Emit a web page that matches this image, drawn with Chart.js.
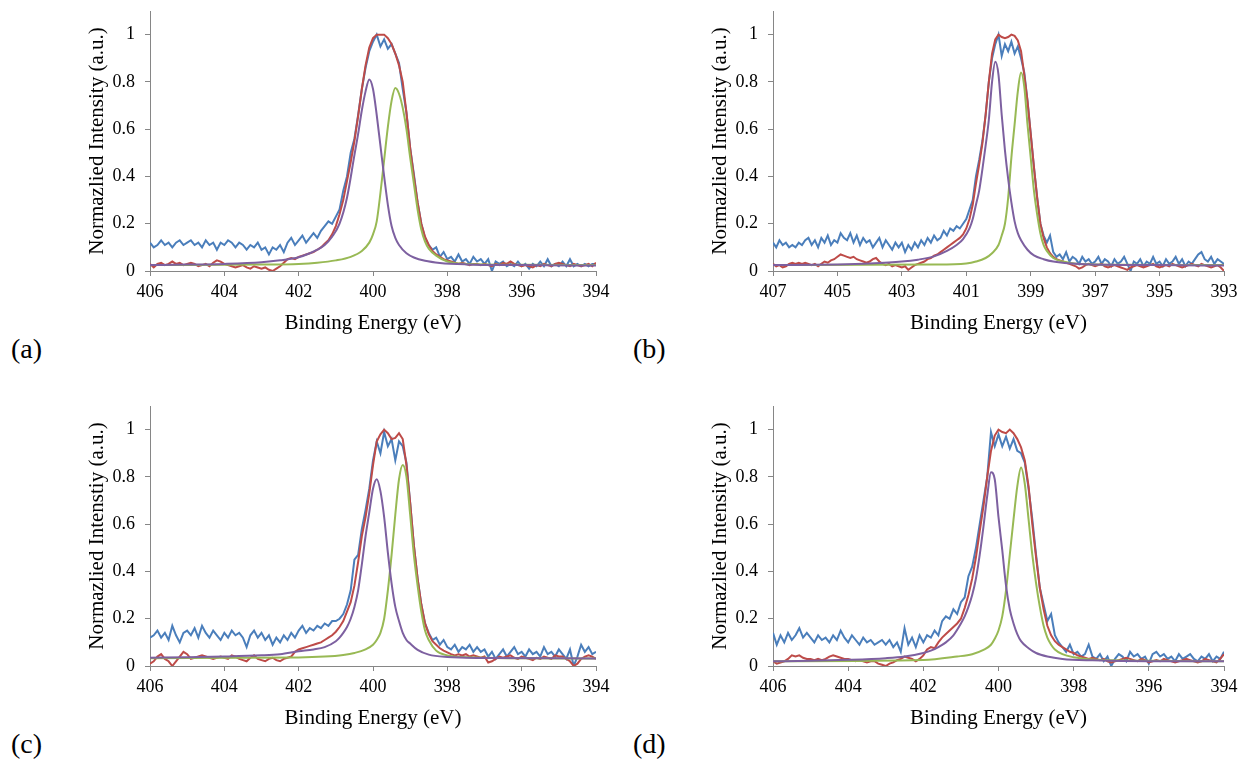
<!DOCTYPE html>
<html>
<head>
<meta charset="utf-8">
<script src="https://cdn.jsdelivr.net/npm/chart.js@4.4.1/dist/chart.umd.min.js"></script>
<style>
html,body{margin:0;padding:0;background:#fff;overflow:hidden;width:1238px;height:761px;}
canvas{position:absolute;}
.lbl{position:absolute;font-family:"Liberation Serif","Times New Roman",serif;font-size:28px;color:#000;line-height:1;}
</style>
</head>
<body>
<canvas id="ca"></canvas>
<canvas id="cb"></canvas>
<canvas id="cc"></canvas>
<canvas id="cd"></canvas>
<div class="lbl" style="left:11px;top:335px">(a)</div>
<div class="lbl" style="left:633px;top:335px">(b)</div>
<div class="lbl" style="left:11px;top:730px">(c)</div>
<div class="lbl" style="left:633px;top:730px">(d)</div>
<script>
// ---------- tick labels ----------
const Y_TICKS = [0, 0.2, 0.4, 0.6, 0.8, 1];
const X_TICKS_406 = [406, 404, 402, 400, 398, 396, 394];
const X_TICKS_407 = [407, 405, 403, 401, 399, 397, 395, 393];
const X_TITLE = 'Binding Energy (eV)';
const Y_TITLE = 'Normazlied Intensity (a.u.)';
const Y_TITLE_C = 'Normazlied Intenstiy (a.u.)';

// ---------- (a) : measured data on 0.1 eV grid from 406 eV ----------
const GRID_START_A = 406;
const BLUE_A = [0.12,0.10,0.11,0.13,0.11,0.12,0.10,0.12,0.13,0.11,0.12,
 0.13,0.11,0.12,0.10,0.13,0.11,0.12,0.09,0.12,0.11,
 0.13,0.12,0.10,0.12,0.11,0.09,0.11,0.10,0.12,0.09,
 0.10,0.07,0.10,0.09,0.11,0.08,0.12,0.14,0.11,0.13,
 0.15,0.12,0.14,0.16,0.14,0.17,0.19,0.21,0.20,0.23,
 0.26,0.34,0.40,0.50,0.56,0.66,0.77,0.86,0.93,0.97,
 1.00,0.95,0.98,0.94,0.96,0.92,0.88,0.77,0.67,0.52,
 0.41,0.29,0.20,0.14,0.11,0.09,0.10,0.06,0.08,0.05,
 0.06,0.04,0.07,0.04,0.05,0.03,0.06,0.04,0.05,0.03,
 0.05,0.00,0.04,0.03,0.04,0.02,0.03,0.02,0.04,0.02,
 0.03,0.01,0.03,0.02,0.04,0.02,0.05,0.02,0.03,0.02,
 0.04,0.02,0.05,0.02,0.03,0.02,0.03,0.02,0.03,0.03];
const RED_A = [0.03,0.015,0.03,0.035,0.025,0.03,0.04,0.03,0.035,0.025,0.03,
 0.035,0.03,0.02,0.025,0.03,0.02,0.035,0.045,0.04,0.03,
 0.025,0.02,0.015,0.02,0.025,0.015,0.01,0.02,0.015,0.01,
 0.015,0.005,0.0,0.01,0.02,0.035,0.05,0.055,0.05,0.06,
 0.065,0.07,0.075,0.08,0.09,0.10,0.115,0.13,0.155,0.19,
 0.24,0.30,0.38,0.46,0.55,0.655,0.77,0.87,0.945,0.985,
 1.0,1.0,1.0,0.985,0.96,0.92,0.87,0.80,0.67,0.52,
 0.40,0.29,0.20,0.145,0.11,0.085,0.07,0.06,0.05,0.045,
 0.04,0.035,0.03,0.035,0.03,0.025,0.03,0.03,0.025,0.03,
 0.025,0.02,0.03,0.025,0.035,0.03,0.04,0.03,0.025,0.02,
 0.025,0.02,0.015,0.025,0.02,0.03,0.025,0.02,0.03,0.035,
 0.03,0.025,0.02,0.03,0.025,0.02,0.025,0.03,0.02,0.035];
const PURPLE_A_X = [406,405,404,403,402.5,402,401.7,401.5,401.3,401.1,400.9,400.7,400.5,400.4,400.3,400.2,400.1,400.0,399.9,399.8,399.7,399.6,399.5,399.4,399.3,399.1,398.9,398.6,398.2,397.5,396,394];
const PURPLE_A_Y = [0.025,0.027,0.03,0.037,0.045,0.058,0.075,0.09,0.11,0.145,0.2,0.31,0.49,0.58,0.68,0.76,0.81,0.77,0.66,0.53,0.40,0.28,0.19,0.14,0.11,0.075,0.057,0.043,0.034,0.028,0.025,0.023];
const GREEN_A_X = [406,403,402,401.5,401,400.6,400.3,400.1,400.0,399.9,399.8,399.7,399.6,399.5,399.4,399.3,399.2,399.1,399.0,398.9,398.8,398.7,398.6,398.5,398.3,398.0,397.5,396,394];
const GREEN_A_Y = [0.025,0.027,0.03,0.035,0.045,0.06,0.085,0.12,0.155,0.21,0.33,0.47,0.61,0.72,0.774,0.75,0.69,0.6,0.48,0.37,0.26,0.175,0.124,0.095,0.065,0.04,0.03,0.026,0.025];

// ---------- (b) : 0.1 eV grid from 407 eV ----------
const GRID_START_B = 407;
const BLUE_B = [0.12,0.10,0.13,0.11,0.12,0.10,0.11,0.10,0.12,0.11,
 0.13,0.14,0.11,0.13,0.10,0.14,0.12,0.15,0.11,0.13,
 0.12,0.16,0.14,0.13,0.16,0.12,0.15,0.11,0.14,0.12,
 0.13,0.10,0.12,0.14,0.10,0.13,0.11,0.09,0.12,0.10,
 0.12,0.08,0.11,0.09,0.12,0.10,0.13,0.11,0.14,0.12,
 0.15,0.13,0.14,0.17,0.15,0.18,0.17,0.19,0.18,0.20,
 0.22,0.26,0.30,0.40,0.47,0.55,0.66,0.80,0.90,0.96,
 1.00,0.91,0.96,0.93,0.97,0.92,0.95,0.90,0.84,0.72,
 0.58,0.44,0.31,0.20,0.15,0.12,0.15,0.08,0.06,0.07,
 0.05,0.08,0.04,0.06,0.05,0.03,0.06,0.04,0.05,0.03,
 0.04,0.06,0.03,0.05,0.04,0.02,0.05,0.03,0.04,0.06,
 0.03,0.00,0.04,0.03,0.05,0.02,0.04,0.03,0.06,0.03,
 0.04,0.02,0.05,0.03,0.04,0.06,0.03,0.05,0.02,0.04,
 0.03,0.05,0.07,0.08,0.05,0.04,0.06,0.03,0.05,0.04,0.03];
const RED_B = [0.03,0.02,0.025,0.015,0.02,0.03,0.035,0.03,0.035,0.03,
 0.035,0.03,0.025,0.03,0.02,0.03,0.04,0.035,0.045,0.05,
 0.06,0.07,0.065,0.06,0.055,0.06,0.05,0.045,0.04,0.035,
 0.04,0.05,0.055,0.04,0.03,0.025,0.03,0.02,0.025,0.02,
 0.015,0.02,0.005,0.015,0.025,0.03,0.035,0.04,0.05,0.055,
 0.065,0.07,0.08,0.09,0.10,0.11,0.12,0.13,0.14,0.155,
 0.18,0.22,0.28,0.37,0.45,0.54,0.66,0.80,0.92,0.98,
 1.0,0.99,0.985,0.99,1.0,0.995,0.975,0.93,0.83,0.72,
 0.58,0.44,0.31,0.20,0.14,0.10,0.075,0.06,0.05,0.045,
 0.04,0.035,0.03,0.025,0.02,0.01,0.015,0.025,0.03,0.025,
 0.02,0.025,0.03,0.02,0.015,0.02,0.025,0.02,0.015,0.01,
 0.005,0.015,0.02,0.025,0.02,0.015,0.02,0.025,0.03,0.02,
 0.015,0.02,0.025,0.02,0.03,0.025,0.02,0.015,0.02,0.025,
 0.03,0.025,0.02,0.03,0.025,0.02,0.015,0.02,0.025,0.015,0.0];
const PURPLE_B_X = [407,405,404,403,402.5,402,401.6,401.3,401.1,400.9,400.8,400.7,400.6,400.5,400.4,400.3,400.2,400.1,400.0,399.9,399.8,399.7,399.6,399.5,399.4,399.3,399.1,398.9,398.6,398.3,397.5,395,393];
const PURPLE_B_Y = [0.025,0.028,0.032,0.04,0.048,0.062,0.085,0.11,0.135,0.18,0.22,0.28,0.34,0.43,0.53,0.64,0.80,0.885,0.83,0.66,0.51,0.39,0.29,0.21,0.16,0.13,0.09,0.066,0.05,0.04,0.03,0.025,0.023];
const GREEN_B_X = [407,402,401,400.7,400.4,400.2,400.0,399.9,399.8,399.7,399.6,399.5,399.4,399.3,399.2,399.1,399.0,398.9,398.8,398.7,398.6,398.5,398.3,398.0,397.5,396,393];
const GREEN_B_Y = [0.025,0.027,0.032,0.04,0.055,0.075,0.11,0.15,0.20,0.31,0.48,0.62,0.76,0.84,0.78,0.62,0.48,0.34,0.24,0.16,0.11,0.085,0.055,0.04,0.03,0.026,0.025];

// ---------- (c) : 0.1 eV grid from 406 eV ----------
const GRID_START_C = 406;
const BLUE_C = [0.12,0.13,0.15,0.12,0.14,0.11,0.17,0.13,0.10,0.14,
 0.15,0.13,0.16,0.12,0.17,0.14,0.12,0.15,0.13,0.11,
 0.14,0.12,0.15,0.13,0.14,0.12,0.08,0.13,0.15,0.12,
 0.14,0.11,0.13,0.09,0.12,0.10,0.13,0.11,0.14,0.12,
 0.15,0.17,0.14,0.16,0.15,0.17,0.16,0.18,0.17,0.19,
 0.19,0.20,0.22,0.26,0.32,0.45,0.47,0.58,0.66,0.75,
 0.87,0.95,0.90,0.99,0.93,0.96,0.87,0.95,0.93,0.86,
 0.69,0.51,0.37,0.26,0.18,0.14,0.11,0.12,0.09,0.11,
 0.08,0.07,0.09,0.06,0.08,0.07,0.09,0.06,0.08,0.06,
 0.07,0.04,0.06,0.03,0.05,0.07,0.04,0.06,0.08,0.05,
 0.06,0.04,0.07,0.05,0.06,0.04,0.08,0.05,0.06,0.04,
 0.07,0.05,0.03,0.07,0.00,0.04,0.09,0.06,0.08,0.05,
 0.06];
const RED_C = [0.01,0.02,0.04,0.05,0.03,0.02,0.00,0.02,0.04,0.06,
 0.05,0.03,0.035,0.04,0.045,0.04,0.035,0.03,0.035,0.04,
 0.035,0.03,0.045,0.04,0.03,0.025,0.02,0.035,0.045,0.03,
 0.025,0.02,0.03,0.035,0.025,0.02,0.03,0.035,0.04,0.06,
 0.07,0.075,0.08,0.085,0.09,0.095,0.10,0.11,0.12,0.13,
 0.145,0.165,0.19,0.23,0.27,0.34,0.44,0.55,0.63,0.73,
 0.85,0.95,0.98,1.0,0.985,0.96,0.965,0.985,0.96,0.85,
 0.69,0.51,0.37,0.26,0.18,0.135,0.105,0.09,0.075,0.065,
 0.058,0.05,0.045,0.05,0.045,0.05,0.04,0.045,0.04,0.035,
 0.04,0.015,0.02,0.03,0.04,0.035,0.04,0.045,0.035,0.03,
 0.04,0.035,0.03,0.025,0.035,0.03,0.04,0.035,0.03,0.045,
 0.04,0.04,0.03,0.02,0.0,0.01,0.03,0.04,0.045,0.04,
 0.03];
const PURPLE_C_X = [406,405,404,403,402.5,402,401.6,401.3,401.0,400.9,400.8,400.7,400.6,400.5,400.4,400.3,400.2,400.1,400.0,399.9,399.8,399.7,399.6,399.5,399.4,399.3,399.2,399.1,399.0,398.8,398.5,398.0,397,394];
const PURPLE_C_Y = [0.035,0.037,0.04,0.045,0.05,0.062,0.07,0.08,0.105,0.12,0.14,0.165,0.2,0.25,0.32,0.43,0.55,0.65,0.75,0.79,0.74,0.63,0.48,0.35,0.25,0.19,0.14,0.11,0.095,0.068,0.048,0.038,0.034,0.032];
const GREEN_C_X = [406,402,401.3,400.8,400.5,400.2,400.0,399.9,399.8,399.7,399.6,399.5,399.4,399.3,399.2,399.1,399.0,398.9,398.8,398.7,398.6,398.5,398.3,398.0,397.5,396,394];
const GREEN_C_Y = [0.033,0.036,0.04,0.047,0.055,0.07,0.09,0.11,0.14,0.2,0.32,0.47,0.64,0.79,0.85,0.80,0.64,0.47,0.34,0.23,0.15,0.11,0.065,0.045,0.037,0.033,0.032];

// ---------- (d) : 0.1 eV grid from 406 eV ----------
const GRID_START_D = 406;
const BLUE_D = [0.14,0.09,0.13,0.10,0.14,0.11,0.13,0.16,0.12,0.14,
 0.12,0.10,0.13,0.11,0.12,0.10,0.13,0.11,0.15,0.12,
 0.10,0.13,0.11,0.09,0.12,0.10,0.11,0.09,0.10,0.11,
 0.09,0.11,0.08,0.10,0.06,0.16,0.09,0.12,0.08,0.13,
 0.10,0.13,0.12,0.15,0.13,0.19,0.21,0.20,0.24,0.22,
 0.27,0.29,0.38,0.42,0.50,0.60,0.70,0.80,0.99,0.93,
 0.98,0.93,0.97,0.92,0.96,0.91,0.90,0.86,0.75,0.62,
 0.47,0.33,0.26,0.19,0.22,0.13,0.10,0.08,0.06,0.09,
 0.05,0.06,0.04,0.05,0.09,0.04,0.03,0.05,0.02,0.04,
 0.00,0.03,0.05,0.04,0.02,0.06,0.04,0.05,0.03,0.04,
 0.01,0.05,0.06,0.04,0.05,0.03,0.04,0.02,0.05,0.03,
 0.04,0.05,0.03,0.02,0.04,0.03,0.05,0.02,0.04,0.03,
 0.06];
const RED_D = [0.02,0.01,0.015,0.02,0.03,0.045,0.04,0.045,0.035,0.03,
 0.03,0.025,0.03,0.025,0.03,0.04,0.045,0.04,0.035,0.03,
 0.03,0.025,0.02,0.025,0.02,0.015,0.02,0.02,0.01,0.005,
 0.0,0.01,0.015,0.025,0.03,0.04,0.035,0.03,0.02,0.03,
 0.045,0.07,0.08,0.075,0.10,0.12,0.135,0.15,0.165,0.18,
 0.20,0.245,0.30,0.37,0.46,0.57,0.675,0.80,0.91,0.975,
 1.0,0.99,0.985,1.0,0.985,0.96,0.925,0.87,0.76,0.60,
 0.46,0.33,0.24,0.17,0.13,0.105,0.09,0.08,0.07,0.06,
 0.055,0.045,0.04,0.035,0.03,0.035,0.03,0.025,0.03,0.02,
 0.015,0.02,0.025,0.03,0.035,0.03,0.025,0.02,0.03,0.025,
 0.015,0.02,0.025,0.02,0.03,0.025,0.02,0.015,0.02,0.025,
 0.03,0.025,0.02,0.015,0.02,0.03,0.025,0.02,0.015,0.03,
 0.05];
const PURPLE_D_X = [406,405,404,403,402.5,402,401.8,401.6,401.4,401.2,401.0,400.9,400.8,400.7,400.6,400.5,400.4,400.3,400.2,400.1,400.0,399.9,399.8,399.7,399.6,399.5,399.4,399.2,399.0,398.7,398.3,397.5,396,394];
const PURPLE_D_Y = [0.02,0.022,0.026,0.033,0.04,0.055,0.065,0.08,0.10,0.13,0.18,0.21,0.25,0.30,0.37,0.47,0.59,0.72,0.82,0.79,0.63,0.49,0.34,0.24,0.18,0.135,0.105,0.075,0.055,0.04,0.03,0.024,0.02,0.02];
const GREEN_D_X = [406,402,401.1,400.7,400.4,400.2,400.1,400.0,399.9,399.8,399.7,399.6,399.5,399.4,399.3,399.2,399.1,399.0,398.9,398.8,398.7,398.6,398.5,398.3,398.0,397.5,396,394];
const GREEN_D_Y = [0.02,0.025,0.04,0.05,0.068,0.09,0.115,0.15,0.21,0.32,0.47,0.62,0.76,0.84,0.77,0.62,0.47,0.35,0.25,0.17,0.12,0.09,0.07,0.05,0.037,0.028,0.022,0.02];

// ---------- helpers ----------
const STEP = 0.1;
const onGrid = (start, vals) => vals.map((v, i) => ({x: +(start - i * STEP).toFixed(2), y: v}));
const pair = (xs, ys) => xs.map((x, i) => ({x: x, y: ys[i]}));

const FONT = '"Liberation Serif", "Times New Roman", serif';
const AXIS_GRAY = '#868686';
const COLORS = {blue:'#4a7ebb', red:'#be4b48', green:'#98b954', purple:'#7d60a0'};

const PANELS = [
  {id:'ca', start:GRID_START_A, blue:BLUE_A, red:RED_A, px:PURPLE_A_X, py:PURPLE_A_Y, gx:GREEN_A_X, gy:GREEN_A_Y, xt:X_TICKS_406, yTitle:Y_TITLE},
  {id:'cb', start:GRID_START_B, blue:BLUE_B, red:RED_B, px:PURPLE_B_X, py:PURPLE_B_Y, gx:GREEN_B_X, gy:GREEN_B_Y, xt:X_TICKS_407, yTitle:Y_TITLE},
  {id:'cc', start:GRID_START_C, blue:BLUE_C, red:RED_C, px:PURPLE_C_X, py:PURPLE_C_Y, gx:GREEN_C_X, gy:GREEN_C_Y, xt:X_TICKS_406, yTitle:Y_TITLE_C},
  {id:'cd', start:GRID_START_D, blue:BLUE_D, red:RED_D, px:PURPLE_D_X, py:PURPLE_D_Y, gx:GREEN_D_X, gy:GREEN_D_Y, xt:X_TICKS_406, yTitle:Y_TITLE}
];
const LAYOUT = {
  ca:{left:70, top:0, w:546, h:340, padR:20},
  cb:{left:693, top:0, w:545, h:340, padR:14},
  cc:{left:70, top:395, w:546, h:340, padR:20},
  cd:{left:693, top:395, w:545, h:340, padR:14}
};

function line(data, color, order, smooth){
  return {data:data, borderColor:color, backgroundColor:color, borderWidth:2, pointRadius:0,
          fill:false, order:order, tension:0, cubicInterpolationMode: smooth ? 'monotone' : 'default'};
}

function draw(){
  Chart.defaults.font.family = FONT;
  PANELS.forEach(p => {
    const L = LAYOUT[p.id];
    const cv = document.getElementById(p.id);
    cv.width = L.w; cv.height = L.h;
    cv.style.left = L.left + 'px'; cv.style.top = L.top + 'px';
    cv.style.width = L.w + 'px'; cv.style.height = L.h + 'px';
    const xMin = Math.min(...p.xt), xMax = Math.max(...p.xt);
    new Chart(cv.getContext('2d'), {
      type:'line',
      data:{datasets:[
        line(onGrid(p.start, p.blue), COLORS.blue, 4, false),
        line(onGrid(p.start, p.red), COLORS.red, 3, false),
        line(pair(p.gx, p.gy), COLORS.green, 2, true),
        line(pair(p.px, p.py), COLORS.purple, 1, true)
      ]},
      options:{
        responsive:false, animation:false, devicePixelRatio:1,
        layout:{padding:{top:11, right:L.padR, bottom:4, left:0}},
        plugins:{legend:{display:false}, tooltip:{enabled:false}},
        scales:{
          x:{type:'linear', reverse:true, min:xMin, max:xMax,
            afterBuildTicks: s => { s.ticks = p.xt.map(v => ({value:v})); },
            afterFit: s => { s.height = 65; s.paddingLeft = 0; s.paddingRight = 0; },
            ticks:{font:{family:FONT, size:18}, color:'#000', padding:5, maxRotation:0, autoSkip:false,
                   callback: v => String(v)},
            grid:{display:true, drawOnChartArea:false, drawTicks:true, tickLength:5, color:AXIS_GRAY, lineWidth:1},
            border:{display:true, color:AXIS_GRAY, width:1},
            title:{display:true, text:X_TITLE, font:{family:FONT, size:21}, color:'#000', padding:{top:0, bottom:0.4}}
          },
          y:{type:'linear', min:0, max:1.1,
            afterBuildTicks: s => { s.ticks = Y_TICKS.map(v => ({value:v})); },
            afterFit: s => { s.width = 80; s.paddingTop = 0; s.paddingBottom = 0; },
            ticks:{font:{family:FONT, size:18}, color:'#000', padding:10,
                   callback: v => String(Math.round(v * 10) / 10)},
            grid:{display:true, drawOnChartArea:false, drawTicks:true, tickLength:5, color:AXIS_GRAY, lineWidth:1},
            border:{display:true, color:AXIS_GRAY, width:1},
            title:{display:true, text:p.yTitle, font:{family:FONT, size:21}, color:'#000', padding:{top:14.4, bottom:0}}
          }
        }
      }
    });
  });
}

if (document.fonts && document.fonts.load) {
  Promise.all([
    document.fonts.load('18px "Liberation Serif"'),
    document.fonts.load('21px "Liberation Serif"')
  ]).then(draw, draw);
} else {
  draw();
}
</script>
</body>
</html>
